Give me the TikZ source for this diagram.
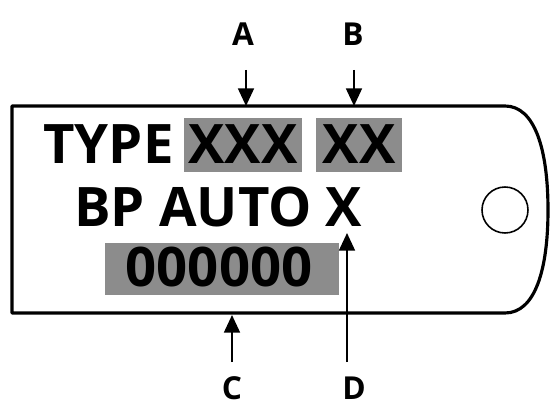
\documentclass[tikz,border=0pt]{standalone}
\usepackage{fontspec}
\setmainfont{Open Sans}
\usetikzlibrary{arrows.meta}

\tikzset{
  plate/.style={line width=1.8pt, line join=round},
  stamp/.style={font=\bfseries\fontsize{31}{31}\selectfont, inner sep=0pt},
  shade/.style={fill=black!45, inner sep=0pt},
  letter/.style={font=\bfseries\fontsize{18}{18}\selectfont, inner sep=0pt},
  pointer/.style={line width=1.2pt, -{Triangle[length=10pt,width=9pt]}}
}

\begin{document}
\begin{tikzpicture}[x=0.02cm, y=-0.02cm]
    \useasboundingbox (0,0) rectangle (551,405);
    % the tag
    \draw[plate] (12,106) -- (505,106) .. controls (535,106) and (548,150) .. (548,210)
      .. controls (548,270) and (535,313) .. (505,313) -- (12,313) -- cycle;
    \node[draw, line width=0.9pt, circle, minimum size=0.92cm, inner sep=0pt] (hole) at (505,210) {};
    % stamped fields
    \node[shade, minimum width=2.38cm, minimum height=1.1cm] (xxx) at (243,145) {};
    \node[shade, minimum width=1.72cm, minimum height=1.1cm] (xx) at (359,145) {};
    \node[shade, minimum width=4.68cm, minimum height=1.04cm] (num) at (222,269) {};
    \node[stamp, anchor=base west] (type) at (43,164) {TYPE};
    \node[stamp, anchor=base] at (243,164) {XXX};
    \node[stamp, anchor=base] at (359,164) {XX};
    \node[stamp, anchor=base west] (bp) at (74,227) {BP AUTO X};
    \node[stamp, anchor=base] at (219,286) {000000};
    % where the arrows land
    \coordinate (ta) at (246,106);
    \coordinate (tb) at (354,106);
    \coordinate (tc) at (232,315);
    \coordinate (td) at (347,233);
    % labels
    \node[letter] (A) at (243,34) {A};
    \node[letter] (B) at (353,34) {B};
    \node[letter] (C) at (232,388) {C};
    \node[letter] (D) at (354,388) {D};
    \draw[pointer] (246,70) -- (ta);
    \draw[pointer] (354,70) -- (tb);
    \draw[pointer] (232,362) -- (tc);
    \draw[pointer] (347,362) -- (td);
  \end{tikzpicture}
\end{document}
